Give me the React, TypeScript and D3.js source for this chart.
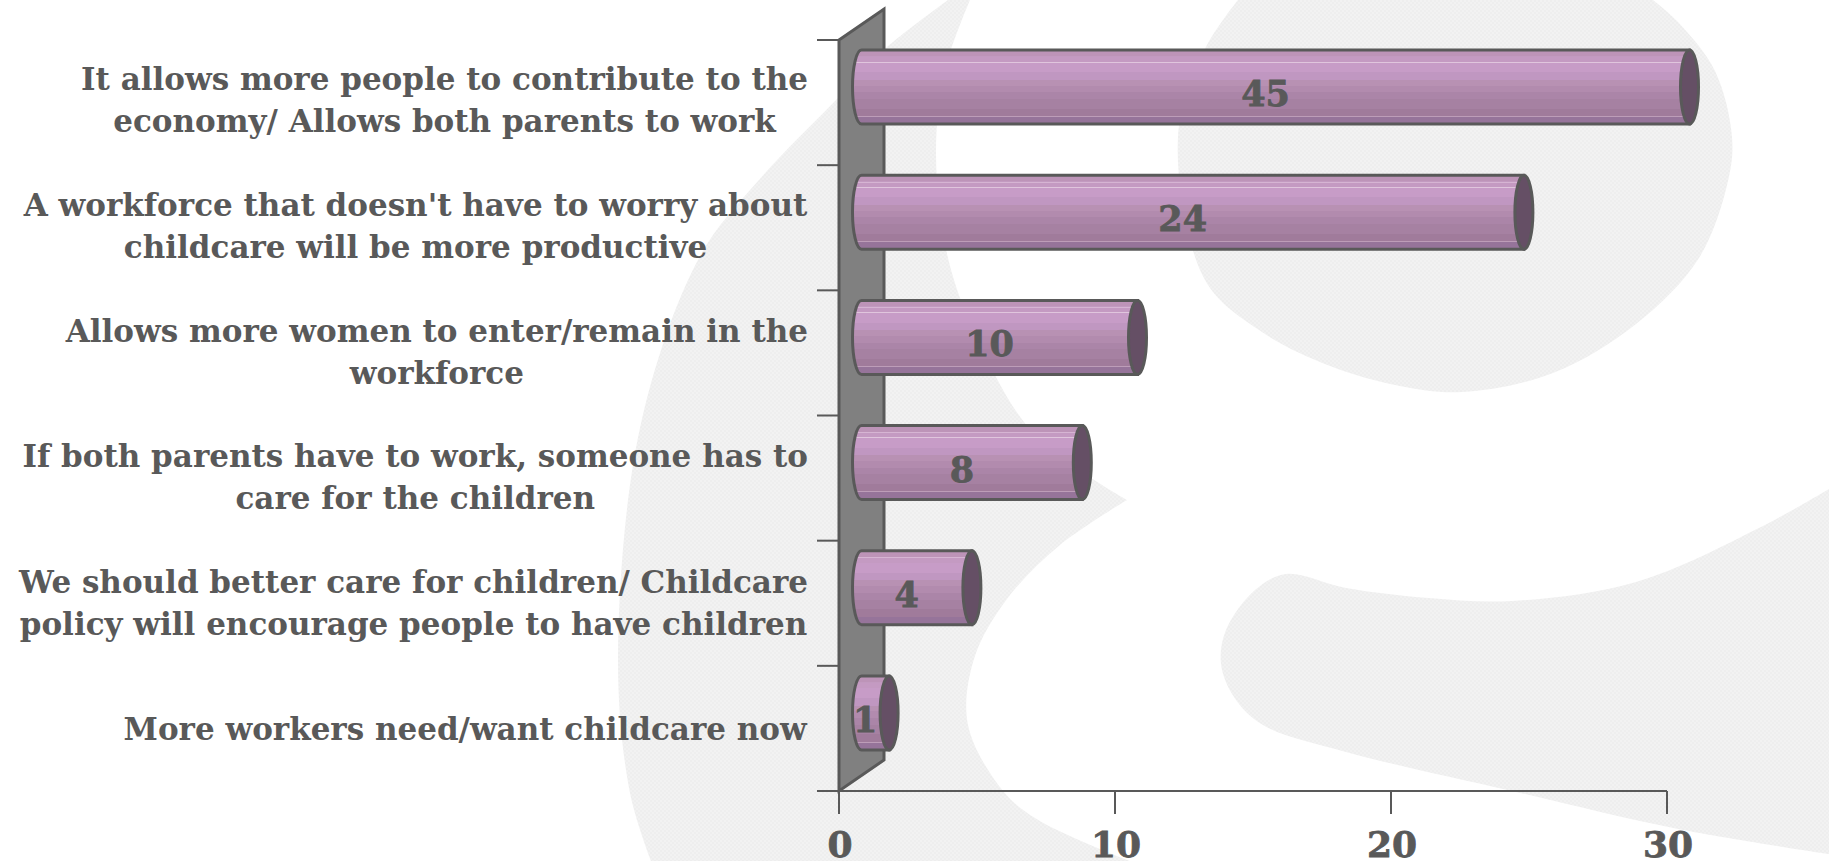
import React, { useEffect, useRef } from "react";
import * as d3 from "d3";

// Survey responses, most frequent first.
const categories: string[][] = [
  ["It allows more people to contribute to the", "economy/ Allows both parents to work"],
  ["A workforce that doesn't have to worry about", "childcare will be more productive"],
  ["Allows more women to enter/remain in the", "workforce"],
  ["If both parents have to work, someone has to", "care for the children"],
  ["We should better care for children/ Childcare", "policy will encourage people to have children"],
  ["More workers need/want childcare now"],
];
const values = [45, 24, 10, 8, 4, 1];
const xTicks = [0, 10, 20, 30];

// Horizontal shading of the cylinders: offset (percent) and colour of each band.
const bandStops: [number, string][] = [
  [0, "#bd94b8"], [8, "#c29ac0"], [9, "#d6b4d3"], [10, "#c49ac2"], [16, "#e0c5dd"], [17, "#c79cc7"],
  [30, "#c097c1"], [40, "#b891b3"], [48, "#b28bae"], [57, "#ab85a8"], [66, "#a681a2"],
  [79, "#a07b9b"], [89, "#bd9db8"], [90, "#96749a"], [100, "#8f7093"],
];

// Outline of the pale letter behind the chart.
const letterOuter: [number, number][] = [
  [948, 0], [885, 49], [837, 99], [758, 181], [699, 258], [640, 428], [618, 659], [630, 793], [651, 861],
];
const letterLowerInner: [number, number][] = [
  [1130, 861], [1095, 847], [1035, 818], [1003, 791], [968, 725], [974, 659], [1007, 599], [1060, 545], [1127, 500],
];
const letterUpperInner: [number, number][] = [
  [1127, 500], [1035, 435], [980, 345], [948, 258], [936, 154], [945, 70], [970, 0],
];
const letterBowl: [number, number][] = [
  [1653, 0], [1678, 22], [1715, 71], [1732, 137], [1728, 181], [1699, 258], [1636, 324], [1553, 373], [1462, 392],
  [1400, 386], [1330, 366], [1262, 332], [1205, 280], [1178, 137], [1205, 49], [1238, 0],
];
const letterTail: [number, number][] = [
  [1829, 489], [1761, 527], [1636, 582], [1512, 601], [1429, 598], [1346, 588], [1286, 574], [1255, 590], [1226, 630],
  [1221, 664], [1234, 697], [1263, 725], [1346, 752], [1512, 791], [1678, 829], [1829, 854],
];

const WIDTH = 1829;
const HEIGHT = 861;
const INK = "#595959";
const SERIF = "'DejaVu Serif', serif";

export default function App() {
  const ref = useRef<SVGSVGElement | null>(null);

  useEffect(() => {
    const svg = d3.select(ref.current);
    svg.selectAll("*").remove();

    const x = d3.scaleLinear().domain([0, 30]).range([839, 1667]).clamp(true);
    const y = d3.scaleBand<number>().domain(d3.range(categories.length)).range([40, 791]);
    const depthX = 45;
    const depthY = 31;
    const capRx = 9;
    const barHalf = 37;

    const defs = svg.append("defs");
    const grain = defs
      .append("pattern")
      .attr("id", "grain")
      .attr("patternUnits", "userSpaceOnUse")
      .attr("width", 4)
      .attr("height", 4);
    grain.append("rect").attr("width", 4).attr("height", 4).attr("fill", "#eeeeee");
    grain.append("circle").attr("cx", 1).attr("cy", 1).attr("r", 0.8).attr("fill", "#f7f7f7");
    grain.append("circle").attr("cx", 3).attr("cy", 3).attr("r", 0.8).attr("fill", "#f7f7f7");

    const shade = defs
      .append("linearGradient")
      .attr("id", "barShade")
      .attr("x1", 0)
      .attr("x2", 0)
      .attr("y1", 0)
      .attr("y2", 1);
    bandStops.forEach(([o, c], i) => {
      shade.append("stop").attr("offset", `${o}%`).attr("stop-color", c);
      const next = bandStops[i + 1];
      if (next) shade.append("stop").attr("offset", `${next[0]}%`).attr("stop-color", c);
    });

    // Pale letter
    const curve = d3.line().curve(d3.curveCatmullRom.alpha(0.5));
    const joined =
      curve(letterOuter)! +
      "L" + curve(letterLowerInner)!.slice(1) +
      "L" + curve(letterUpperInner)!.slice(1) +
      "Z";
    const backdrop = svg.append("g").attr("fill", "url(#grain)");
    backdrop.append("path").attr("d", joined);
    backdrop.append("path").attr("d", curve(letterBowl)! + "Z");
    backdrop.append("path").attr("d", curve(letterTail)! + "Z");

    // Side wall of the 3-D plot
    const x0 = x(0);
    const [yTop, yBottom] = y.range();
    svg
      .append("path")
      .attr(
        "d",
        `M${x0},${yTop}L${x0 + depthX},${yTop - depthY}L${x0 + depthX},${yBottom - depthY}L${x0},${yBottom}Z`
      )
      .attr("fill", "#808080")
      .attr("stroke", INK)
      .attr("stroke-width", 3)
      .attr("stroke-linejoin", "miter");

    // Axes
    const axes = svg.append("g").attr("stroke", INK).attr("stroke-width", 2).attr("fill", "none");
    axes.append("line").attr("x1", x0 - 22).attr("x2", x(30)).attr("y1", yBottom).attr("y2", yBottom);
    xTicks.forEach((t) => {
      axes.append("line").attr("x1", x(t)).attr("x2", x(t)).attr("y1", yBottom).attr("y2", yBottom + 23);
    });
    categories.forEach((_, i) => {
      const yy = y(i)!;
      axes.append("line").attr("x1", x0 - 22).attr("x2", x0).attr("y1", yy).attr("y2", yy);
    });

    svg
      .append("g")
      .selectAll("text")
      .data(xTicks)
      .join("text")
      .attr("x", (d) => x(d) + 1)
      .attr("y", 857)
      .attr("text-anchor", "middle")
      .attr("font-family", SERIF)
      .attr("font-weight", 700)
      .attr("font-size", 36)
      .attr("fill", INK)
      .attr("stroke", INK)
      .attr("stroke-width", 0.8)
      .text((d) => d);

    // Cylinders
    const barCentre = (i: number) => y(i)! + y.bandwidth() / 2 - depthY / 2;
    const startX = x0 + depthX / 2;
    const bars = svg.append("g");
    values.forEach((v, i) => {
      const cy = barCentre(i);
      const endX = x(v) + depthX / 2;
      const top = cy - barHalf;
      const bottom = cy + barHalf;
      const g = bars.append("g");
      g.append("path")
        .attr(
          "d",
          `M${endX},${top}L${startX},${top}A${capRx},${barHalf} 0 0 0 ${startX},${bottom}L${endX},${bottom}Z`
        )
        .attr("fill", "url(#barShade)")
        .attr("stroke", INK)
        .attr("stroke-width", 3);
      g.append("ellipse")
        .attr("cx", endX)
        .attr("cy", cy)
        .attr("rx", capRx)
        .attr("ry", barHalf)
        .attr("fill", "#654f65")
        .attr("stroke", INK)
        .attr("stroke-width", 3);
      g.append("text")
        .attr("x", (startX + endX) / 2 - 10)
        .attr("y", cy + 19)
        .attr("text-anchor", "middle")
        .attr("font-family", SERIF)
        .attr("font-weight", 700)
        .attr("font-size", 35)
        .attr("fill", INK)
        .attr("stroke", INK)
        .attr("stroke-width", 0.8)
        .text(v);
    });

    // Category labels: lines centred on each other, the block flush right against the axis.
    const LINE = 42;
    const labels = svg.append("g");
    categories.forEach((lines, i) => {
      const g = labels
        .append("text")
        .attr("font-family", SERIF)
        .attr("font-weight", 700)
        .attr("font-size", 31)
        .attr("text-anchor", "middle")
        .attr("fill", INK);
      lines.forEach((line, k) => {
        g.append("tspan")
          .attr("x", 0)
          .attr("y", y(i)! + y.bandwidth() / 2 + 8 + 0.8 * i + (k - (lines.length - 1) / 2) * LINE)
          .text(line);
      });
      const box = (g.node() as SVGTextElement).getBBox();
      g.attr("transform", `translate(${808 - (box.x + box.width)},0)`);
    });
  }, []);

  return (
    <svg
      ref={ref}
      width={WIDTH}
      height={HEIGHT}
      style={{ position: "absolute", left: 0, top: 0, display: "block", background: "#fff" }}
    />
  );
}
